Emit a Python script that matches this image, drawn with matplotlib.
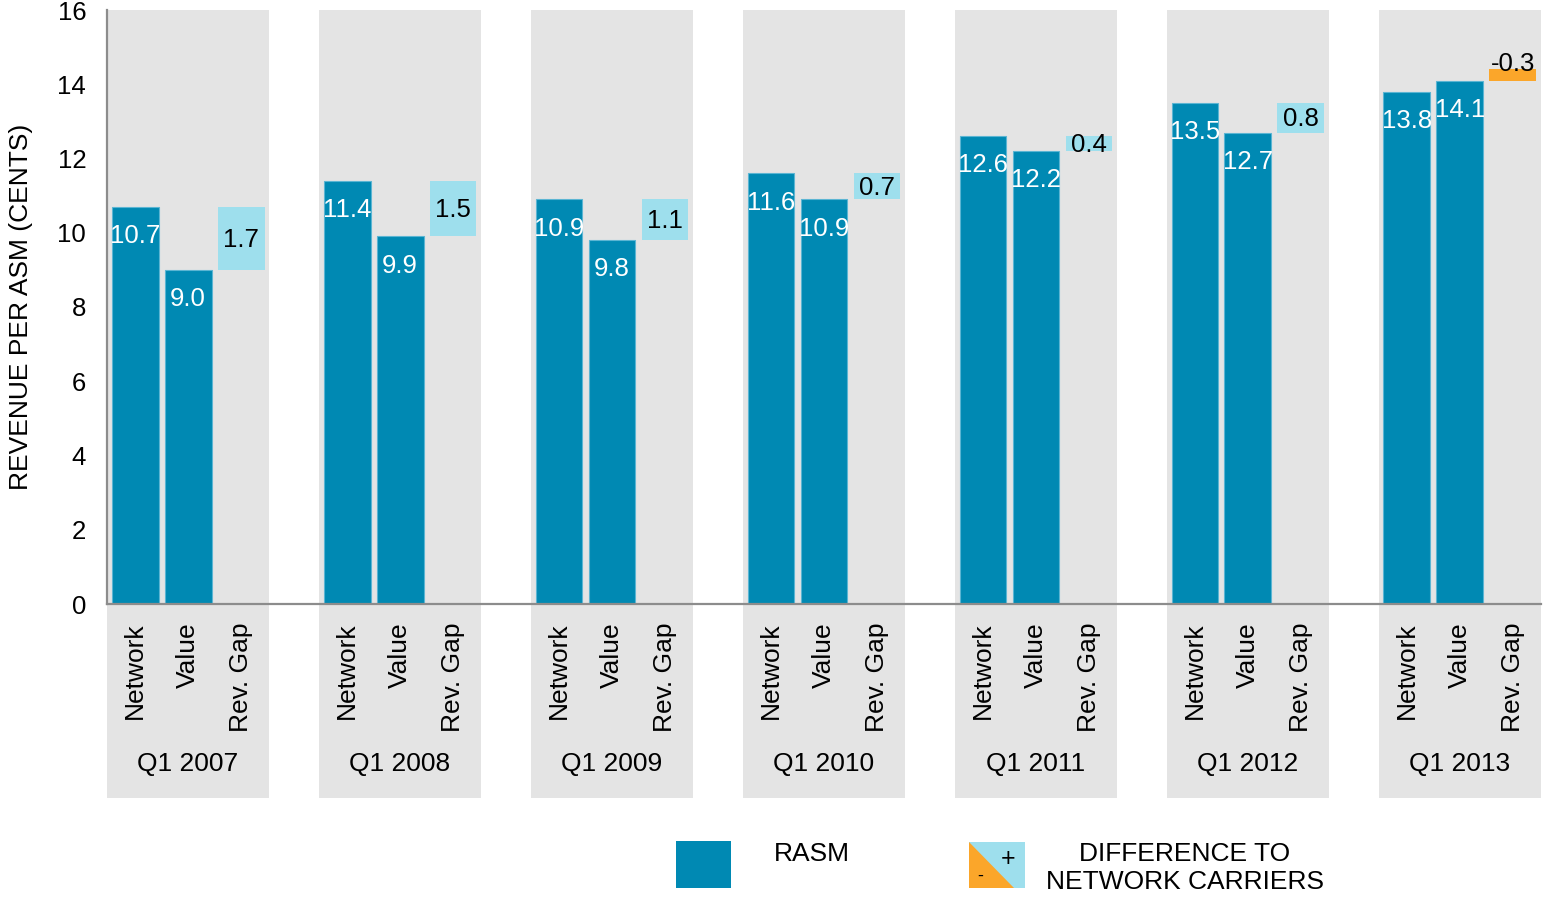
import matplotlib
matplotlib.use("Agg")
import matplotlib.pyplot as plt
from matplotlib.patches import Rectangle, Polygon
from matplotlib.transforms import blended_transform_factory

plt.rcParams['font.family'] = ['Liberation Sans', 'DejaVu Sans']

quarters = ["Q1 2007", "Q1 2008", "Q1 2009", "Q1 2010", "Q1 2011", "Q1 2012", "Q1 2013"]
bar_names = ["Network", "Value", "Rev. Gap"]
network = [10.7, 11.4, 10.9, 11.6, 12.6, 13.5, 13.8]
value = [9.0, 9.9, 9.8, 10.9, 12.2, 12.7, 14.1]
gap = [1.7, 1.5, 1.1, 0.7, 0.4, 0.8, -0.3]
yticks = [0, 2, 4, 6, 8, 10, 12, 14, 16]

BLUE = "#0089B3"
EDGE = "#5BB5D3"
LIGHT = "#9EDFED"
ORANGE = "#FBA62A"
GREY = "#E4E4E4"
SPINE = "#8C8C8C"

W, H = 1543, 898
fig = plt.figure(figsize=(W / 100, H / 100), dpi=100)
ax = fig.add_axes([107 / W, 1 - 604 / H, (1541 - 107) / W, 594 / H])

period = 4
bw = 0.885
band_l, band_r = -0.53, 2.53
trans = blended_transform_factory(ax.transData, ax.transAxes)

for i, q in enumerate(quarters):
    x0 = i * period
    ax.add_patch(Rectangle((x0 + band_l, -0.3266), band_r - band_l, 1.3266,
                           transform=trans, facecolor=GREY, edgecolor='none',
                           clip_on=False, zorder=0))
    ax.text(x0 + 1, -0.2695, q, transform=trans, ha='center', va='center',
            fontsize=19, color='black')

xs_net = [i * period + 0 for i in range(len(quarters))]
xs_val = [i * period + 1 for i in range(len(quarters))]
xs_gap = [i * period + 2 for i in range(len(quarters))]

ax.bar(xs_net, network, width=bw, color=BLUE, edgecolor=EDGE, linewidth=0.8, zorder=2)
ax.bar(xs_val, value, width=bw, color=BLUE, edgecolor=EDGE, linewidth=0.8, zorder=2)
gap_colors = [LIGHT if g >= 0 else ORANGE for g in gap]
ax.bar(xs_gap, [abs(g) for g in gap], bottom=value, width=bw, color=gap_colors,
       edgecolor='none', zorder=2)

for x, v in zip(xs_net, network):
    ax.annotate(f"{v:.1f}", (x, v), xytext=(0, -21), textcoords='offset points',
                ha='center', va='center', color='white', fontsize=18.5, zorder=3)
for x, v in zip(xs_val, value):
    ax.annotate(f"{v:.1f}", (x, v), xytext=(0, -21), textcoords='offset points',
                ha='center', va='center', color='white', fontsize=18.5, zorder=3)
for x, v, g in zip(xs_gap, value, gap):
    mid = v + abs(g) / 2
    off = -1 if g >= 0 else 8
    ax.annotate(f"{g:.1f}", (x, mid), xytext=(0, off), textcoords='offset points',
                ha='center', va='center', color='black', fontsize=18.5, zorder=3)

ax.set_xlim(band_l, (len(quarters) - 1) * period + band_r)
ax.set_ylim(0, 16)
ax.set_yticks(yticks)
ax.set_yticklabels([str(t) for t in yticks], fontsize=18.5)
allx = []
alll = []
for i in range(len(quarters)):
    for k, n in enumerate(bar_names):
        allx.append(i * period + k)
        alll.append(n)
ax.set_xticks(allx)
ax.set_xticklabels(alll, rotation=90, fontsize=19)
ax.tick_params(axis='x', length=0, pad=13)
ax.tick_params(axis='y', length=0, pad=15)
ax.set_ylabel("REVENUE PER ASM (CENTS)", fontsize=19)
ax.yaxis.set_label_coords(-74 / 1434, 0.5)

for s in ['top', 'right']:
    ax.spines[s].set_visible(False)
for s in ['left', 'bottom']:
    ax.spines[s].set_color(SPINE)
    ax.spines[s].set_linewidth(1.6)
    ax.spines[s].set_zorder(4)
ax.set_facecolor('none')

# legend (pixel layout)
lg = fig.add_axes([0, 0, 1, 1], zorder=-1)
lg.set_xlim(0, W)
lg.set_ylim(H, 0)
lg.axis('off')
lg.add_patch(Rectangle((676, 841), 55, 47, facecolor=BLUE, edgecolor='none'))
lg.text(812, 854, "RASM", ha='center', va='center', fontsize=19)
lg.add_patch(Rectangle((969, 842), 56, 46, facecolor=LIGHT, edgecolor='none'))
lg.add_patch(Polygon([(969, 842), (969, 888), (1014, 888)], closed=True,
                     facecolor=ORANGE, edgecolor='none'))
lg.text(1008, 859, "+", ha='center', va='center', fontsize=18)
lg.text(980, 876, "-", ha='center', va='center', fontsize=13)
lg.text(1185, 868, "DIFFERENCE TO\nNETWORK CARRIERS", ha='center', va='center',
        fontsize=19, linespacing=1.17)

fig.savefig("out.png", dpi=100)
